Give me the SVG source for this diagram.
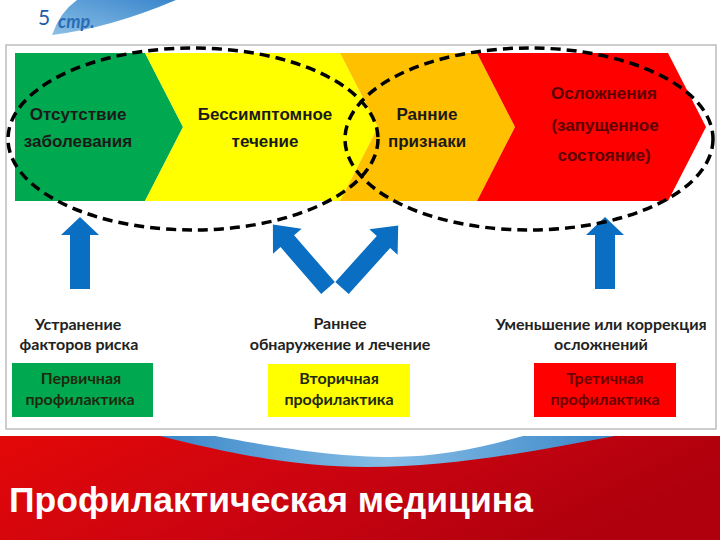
<svg xmlns="http://www.w3.org/2000/svg" width="720" height="540" viewBox="0 0 720 540">
<defs>
<linearGradient id="band" x1="0" y1="0" x2="1" y2="0.3">
<stop offset="0" stop-color="#e30808"/>
<stop offset="0.5" stop-color="#cc0410"/>
<stop offset="1" stop-color="#b0000e"/>
</linearGradient>
<linearGradient id="swooshB" x1="0" y1="0" x2="1" y2="0">
<stop offset="0" stop-color="#3a86c8"/>
<stop offset="0.5" stop-color="#86bde6"/>
<stop offset="1" stop-color="#3a86c8"/>
</linearGradient>
<linearGradient id="swooshT" x1="0" y1="1" x2="1" y2="0">
<stop offset="0" stop-color="#8cc0e6"/>
<stop offset="1" stop-color="#3a86cc"/>
</linearGradient>
<polygon id="uparrow" points="-10,0 -10,-54 -19,-54 0,-72 19,-54 10,-54 10,0"/>
<polygon id="diagarrow" points="-9,0 -9,-62 -19,-62 0,-84 19,-62 9,-62 9,0"/>
</defs>
<style>
.ch{font-family:"Liberation Sans",Arial,sans-serif;font-weight:bold;font-size:17px;text-anchor:middle;fill:#1a1a1a}
.chr{fill:#5e0000}
.lb{font-family:Lato,"Open Sans",sans-serif;font-weight:bold;font-size:16px;text-anchor:middle;fill:#222}
.bx{font-family:Lato,"Open Sans",sans-serif;font-weight:bold;font-size:16px;text-anchor:middle;fill:#1e2a10}
.bxr{fill:#6a0000}
.arrow{fill:#0a6fc2}
.ell{fill:none;stroke:#000;stroke-width:3.5;stroke-dasharray:10 6}
</style>
<rect width="720" height="540" fill="#fff"/>
<g id="header">
<path d="M52,35 Q60,12 77,0 L176,0 Q110,28 52,35 Z" fill="url(#swooshT)"/>
<text x="38" y="25" font-family="Lato,'Open Sans',sans-serif" font-size="21" fill="#1f5ca8">5</text>
<text x="58" y="28" font-family="Lato,'Open Sans',sans-serif" font-style="italic" font-weight="bold" font-size="18" fill="#2a6cb6">стр.</text>
</g>
<rect id="frame" x="6" y="45" width="710" height="384" fill="#fff" stroke="#bdbdbd" stroke-width="1.5"/>
<g id="stage-none">
<polygon points="15,53 145,53 183,127 145,201 15,201" fill="#00a94f"/>
<text class="ch" x="78" y="120">Отсутствие</text>
<text class="ch" x="78" y="147">заболевания</text>
</g>
<g id="stage-asymptomatic">
<polygon points="145,53 340,53 378,127 340,201 145,201 183,127" fill="#ffff00"/>
<text class="ch" x="265" y="120">Бессимптомное</text>
<text class="ch" x="265" y="147">течение</text>
</g>
<g id="stage-early">
<polygon points="340,53 477,53 515,127 477,201 340,201 378,127" fill="#ffc000"/>
<text class="ch" x="427" y="120">Ранние</text>
<text class="ch" x="427" y="147">признаки</text>
</g>
<g id="stage-complications">
<polygon points="477,53 668,53 706,127 668,201 477,201 515,127" fill="#ff0000"/>
<text class="ch chr" x="604" y="99">Осложнения</text>
<text class="ch chr" x="605" y="131">(запущенное</text>
<text class="ch chr" x="604" y="161">состояние)</text>
</g>
<g id="connectors">
<use href="#uparrow" class="arrow" transform="translate(80,289)"/>
<use href="#uparrow" class="arrow" transform="translate(605,289)"/>
<use href="#diagarrow" class="arrow" transform="translate(328,288) rotate(-41)"/>
<use href="#diagarrow" class="arrow" transform="translate(342,288) rotate(42)"/>
</g>
<g id="ellipses">
<ellipse class="ell" cx="193" cy="139" rx="185" ry="91"/>
<ellipse class="ell" cx="529" cy="139" rx="184" ry="91"/>
</g>
<g id="primary">
<text class="lb" x="78" y="330">Устранение</text>
<text class="lb" x="79" y="350">факторов риска</text>
<rect x="12" y="363" width="141" height="54" fill="#00a94f"/>
<text class="bx" x="81" y="384">Первичная</text>
<text class="bx" x="80" y="405">профилактика</text>
</g>
<g id="secondary">
<text class="lb" x="340" y="329">Раннее</text>
<text class="lb" x="340" y="350">обнаружение и лечение</text>
<rect x="268" y="364" width="142" height="53" fill="#ffff00"/>
<text class="bx" x="339" y="384">Вторичная</text>
<text class="bx" x="339" y="405">профилактика</text>
</g>
<g id="tertiary">
<text class="lb" x="601" y="330">Уменьшение или коррекция</text>
<text class="lb" x="601" y="350">осложнений</text>
<rect x="534" y="363" width="142" height="54" fill="#ff0000"/>
<text class="bx bxr" x="605" y="384">Третичная</text>
<text class="bx bxr" x="605" y="405">профилактика</text>
</g>
<g id="footer">
<rect x="0" y="436" width="720" height="104" fill="url(#band)"/>
<path d="M160,436 C240,456 300,467 367,467 C450,467 530,452 615,436 Z" fill="url(#swooshB)"/>
<path d="M215,436 C290,450 340,457 390,457 C440,457 480,448 523,436 Z" fill="#fff"/>
<text x="9" y="512" font-family="Liberation Sans,Arial,sans-serif" font-weight="bold" font-size="35.5" fill="#fff">Профилактическая медицина</text>
</g>
</svg>
